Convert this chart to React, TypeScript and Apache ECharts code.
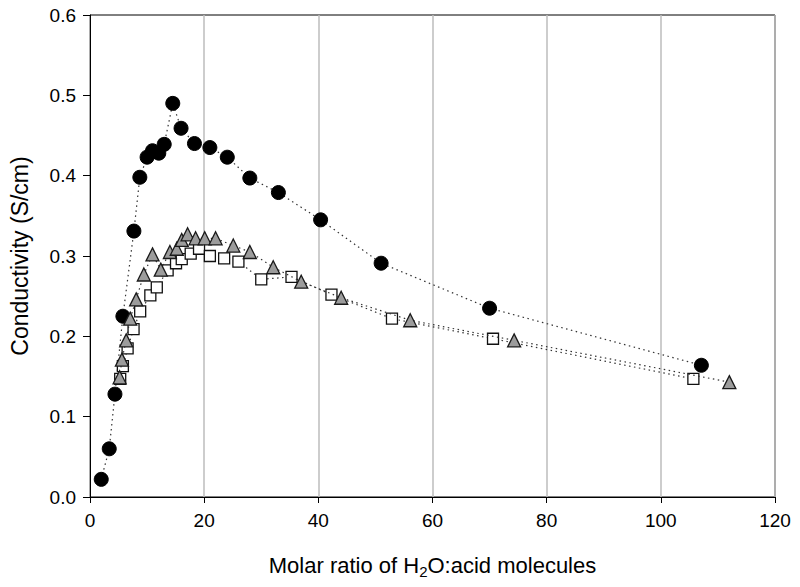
import React, { useEffect, useRef } from "react";
import * as echarts from "echarts";

const circleX = [1.97, 3.37, 4.37, 5.76, 7.69, 8.73, 10.0, 10.95, 12.05, 13.0, 14.5, 15.95, 18.3, 21.0, 24.05, 28.0, 33.0, 40.4, 51.0, 70.0, 107.1];
const circleY = [0.022, 0.06, 0.128, 0.225, 0.331, 0.398, 0.423, 0.431, 0.428, 0.439, 0.49, 0.459, 0.44, 0.435, 0.423, 0.397, 0.379, 0.345, 0.291, 0.235, 0.164];

const squareX = [5.29, 5.76, 6.59, 7.63, 8.79, 10.57, 11.7, 13.6, 15.07, 16.07, 17.64, 19.1, 21.0, 23.5, 26.0, 30.0, 35.3, 42.3, 52.9, 70.6, 105.7];
const squareY = [0.147, 0.163, 0.185, 0.209, 0.231, 0.251, 0.261, 0.282, 0.291, 0.296, 0.303, 0.309, 0.3, 0.297, 0.293, 0.271, 0.274, 0.252, 0.222, 0.197, 0.147];

const triX = [5.19, 5.59, 6.34, 7.04, 8.09, 9.43, 10.95, 12.4, 14.0, 15.2, 16.07, 17.1, 18.5, 20.1, 22.0, 25.1, 28.0, 32.1, 37.0, 44.0, 56.1, 74.3, 112.0];
const triY = [0.149, 0.171, 0.195, 0.222, 0.246, 0.277, 0.302, 0.283, 0.305, 0.309, 0.32, 0.327, 0.322, 0.322, 0.322, 0.313, 0.305, 0.286, 0.268, 0.248, 0.22, 0.195, 0.143];

const xTicks = [0, 20, 40, 60, 80, 100, 120];
const yTicks = [0, 0.1, 0.2, 0.3, 0.4, 0.5, 0.6];

const zip = (xs: number[], ys: number[]) => xs.map((x, i) => [x, ys[i]]);

export default function App() {
  const ref = useRef<HTMLDivElement>(null);
  useEffect(() => {
    if (!ref.current) return;
    const chart = echarts.init(ref.current, null, { renderer: "svg" });
    const font = "'Liberation Sans', Arial, Helvetica, sans-serif";
    const lineStyle = { type: [1.5, 3.5] as any, color: "#333", width: 1.2 };
    chart.setOption({
      animation: false,
      backgroundColor: "#fff",
      textStyle: { fontFamily: font },
      grid: {
        left: 88, right: 25, top: 15, bottom: 90,
        show: true, borderColor: "#000", borderWidth: 1, backgroundColor: "transparent",
      },
      xAxis: {
        type: "value",
        min: xTicks[0], max: xTicks[xTicks.length - 1], interval: 20,
        axisLine: { show: true, lineStyle: { color: "#000", width: 1 } },
        axisTick: { show: true, inside: false, length: 6, lineStyle: { color: "#000" } },
        axisLabel: { color: "#000", fontSize: 19, margin: 14, fontFamily: font },
        splitLine: { show: true, lineStyle: { color: "#bdbdbd", width: 1.5 } },
        name: "Molar ratio of H{sub|2}O:acid molecules",
        nameLocation: "middle",
        nameGap: 54,
        nameTextStyle: {
          color: "#000", fontSize: 22, fontFamily: font,
          rich: { sub: { fontSize: 15, color: "#000", verticalAlign: "bottom", padding: [13, 0, 0, 0], fontFamily: font } },
        },
      },
      yAxis: {
        type: "value",
        min: yTicks[0], max: yTicks[yTicks.length - 1], interval: 0.1,
        axisLine: { show: true, lineStyle: { color: "#000", width: 1 } },
        axisTick: { show: true, inside: false, length: 7, lineStyle: { color: "#000" } },
        axisLabel: { color: "#000", fontSize: 19, margin: 14, fontFamily: font, formatter: (v: number) => v.toFixed(1) },
        splitLine: { show: false },
        name: "Conductivity (S/cm)",
        nameLocation: "middle",
        nameGap: 59,
        nameTextStyle: { color: "#000", fontSize: 23, fontFamily: font },
      },
      series: [
        {
          type: "line", data: zip(circleX, circleY), symbol: "circle", symbolSize: 14,
          lineStyle, itemStyle: { color: "#000", borderColor: "#000", borderWidth: 1 }, z: 2,
        },
        {
          type: "line", data: zip(squareX, squareY), symbol: "rect", symbolSize: 11,
          lineStyle, itemStyle: { color: "#fff", borderColor: "#111", borderWidth: 1.3 }, z: 3,
        },
        {
          type: "line", data: zip(triX, triY), symbol: "triangle", symbolSize: 13,
          lineStyle, itemStyle: { color: "#9c9c9c", borderColor: "#1a1a1a", borderWidth: 1.3 }, z: 4,
        },
      ],
    });
    return () => chart.dispose();
  }, []);
  return <div ref={ref} style={{ width: 800, height: 587, position: "absolute", left: 0, top: 0 }} />;
}
